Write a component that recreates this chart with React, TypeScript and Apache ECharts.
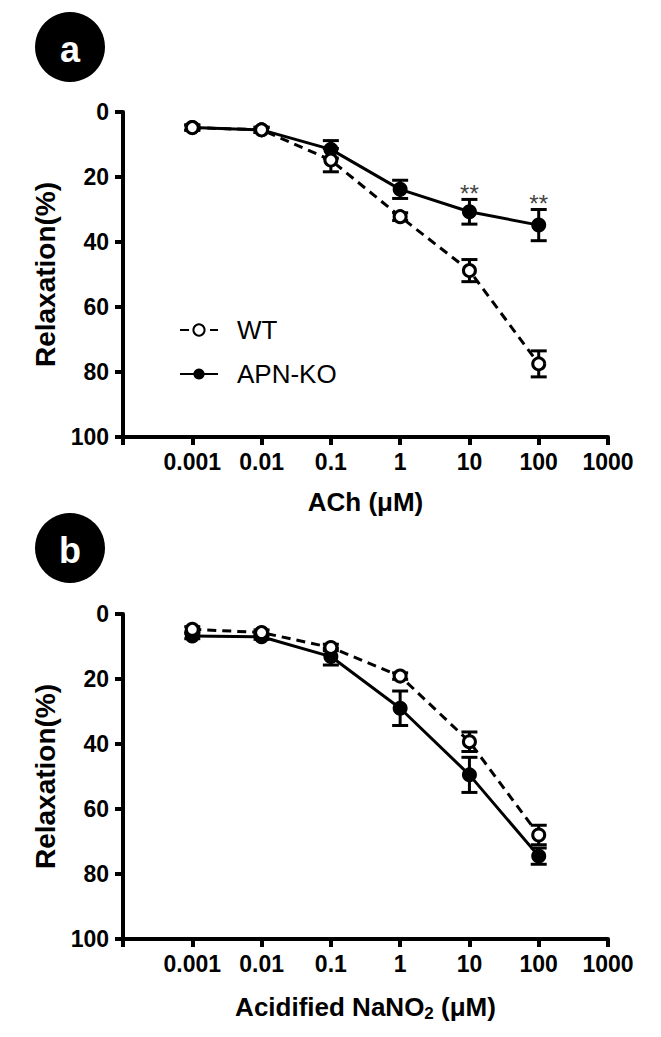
import React, { useEffect, useRef } from "react";
import * as echarts from "echarts";

// ---------- data ----------
const concentrations = [0.001, 0.01, 0.1, 1, 10, 100];
const xTickLabels = ["0.001", "0.01", "0.1", "1", "10", "100", "1000"];

// Panel a: ACh
const wtA = [4.8, 5.5, 14.8, 32.2, 48.8, 77.5];
const wtAErr = [0.8, 0.8, 3.6, 1.2, 3.4, 4.0];
const koA = [4.8, 5.5, 11.5, 23.8, 30.7, 34.8];
const koAErr = [0.8, 0.8, 2.7, 2.8, 3.8, 4.8];
const koASignificance = ["", "", "", "", "**", "**"];

// Panel b: Acidified NaNO2
const wtB = [4.7, 5.7, 10.3, 19.1, 39.3, 68.0];
const wtBErr = [0.8, 0.8, 1.0, 1.0, 3.0, 3.0];
const koB = [6.8, 7.0, 13.1, 29.0, 49.5, 74.5];
const koBErr = [0.8, 0.8, 2.6, 5.3, 5.4, 2.5];

const seriesNames = ["WT", "APN-KO"];
const yAxisTitle = "Relaxation(%)";
const panelLetters = ["a", "b"];

const FONT = "'Liberation Sans', Arial, Helvetica, sans-serif";

const errRender = (params: any, api: any) => {
  const x = api.value(0);
  const m = api.value(1);
  const e = api.value(2);
  const top = api.coord([x, m - e]);
  const bot = api.coord([x, m + e]);
  const hw = 8;
  const style = { stroke: "#000", lineWidth: 3 };
  return {
    type: "group",
    children: [
      { type: "line", shape: { x1: top[0], y1: top[1], x2: bot[0], y2: bot[1] }, style },
      { type: "line", shape: { x1: top[0] - hw, y1: top[1], x2: top[0] + hw, y2: top[1] }, style },
      { type: "line", shape: { x1: bot[0] - hw, y1: bot[1], x2: bot[0] + hw, y2: bot[1] }, style },
    ],
  };
};

const starRender = (params: any, api: any) => {
  const x = api.value(0);
  const m = api.value(1);
  const e = api.value(2);
  const p = api.coord([x, m - e]);
  return {
    type: "text",
    x: p[0],
    y: p[1] - 6,
    style: {
      text: "**",
      fill: "#444",
      font: `24px ${FONT}`,
      align: "center",
      verticalAlign: "middle",
    },
  };
};

function panelSeries(
  idx: number,
  wt: number[],
  wtErr: number[],
  ko: number[],
  koErr: number[],
  sig: string[] | null
) {
  const out: any[] = [
    {
      type: "custom",
      name: "koErr" + idx,
      xAxisIndex: idx,
      yAxisIndex: idx,
      renderItem: errRender,
      encode: { x: 0, y: 1 },
      data: concentrations.map((c, i) => [c, ko[i], koErr[i]]),
      z: 3,
      silent: true,
    },
    {
      type: "custom",
      name: "wtErr" + idx,
      xAxisIndex: idx,
      yAxisIndex: idx,
      renderItem: errRender,
      encode: { x: 0, y: 1 },
      data: concentrations.map((c, i) => [c, wt[i], wtErr[i]]),
      z: 3,
      silent: true,
    },
    {
      type: "line",
      name: seriesNames[1],
      xAxisIndex: idx,
      yAxisIndex: idx,
      data: concentrations.map((c, i) => [c, ko[i]]),
      symbol: "circle",
      symbolSize: 15,
      itemStyle: { color: "#000", borderColor: "#000", borderWidth: 0 },
      lineStyle: { color: "#000", width: 3, type: "solid" },
      z: 4,
    },
    {
      type: "line",
      name: seriesNames[0],
      xAxisIndex: idx,
      yAxisIndex: idx,
      data: concentrations.map((c, i) => [c, wt[i]]),
      symbol: "circle",
      symbolSize: 12,
      itemStyle: { color: "#fff", borderColor: "#000", borderWidth: 3 },
      lineStyle: { color: "#000", width: 3, type: [9, 6] },
      z: 5,
    },
  ];
  if (sig) {
    out.push({
      type: "custom",
      name: "sig" + idx,
      xAxisIndex: idx,
      yAxisIndex: idx,
      renderItem: starRender,
      encode: { x: 0, y: 1 },
      data: concentrations
        .map((c, i) => (sig[i] ? [c, ko[i], koErr[i]] : null))
        .filter((d) => d !== null),
      z: 6,
      silent: true,
    });
  }
  return out;
}

function xAxisDef(idx: number, name: any, rich?: any) {
  return {
    type: "log",
    logBase: 10,
    gridIndex: idx,
    min: 0.0001,
    max: 1000,
    splitNumber: 7,
    name,
    nameLocation: "middle",
    nameGap: 52,
    nameTextStyle: {
      fontFamily: FONT,
      fontSize: 26,
      fontWeight: "bold",
      color: "#000",
      rich,
    },
    axisLine: { show: true, onZero: false, lineStyle: { color: "#000", width: 4 } },
    axisTick: { show: true, length: 8, lineStyle: { color: "#000", width: 4 } },
    minorTick: { show: false },
    splitLine: { show: false },
    axisLabel: {
      margin: 13,
      color: "#000",
      fontFamily: FONT,
      fontSize: 23,
      fontWeight: "bold",
      formatter: (v: number, i: number) => (i === 0 ? "" : xTickLabels[i - 1] ?? ""),
    },
  };
}

function yAxisDef(idx: number) {
  return {
    type: "value",
    gridIndex: idx,
    inverse: true,
    min: 0,
    max: 100,
    interval: 20,
    name: yAxisTitle,
    nameLocation: "middle",
    nameRotate: 90,
    nameGap: 64,
    nameTextStyle: { fontFamily: FONT, fontSize: 28, fontWeight: "bold", color: "#000" },
    axisLine: { show: true, onZero: false, lineStyle: { color: "#000", width: 4 } },
    axisTick: { show: true, length: 8, lineStyle: { color: "#000", width: 4 } },
    splitLine: { show: false },
    axisLabel: {
      margin: 14,
      color: "#000",
      fontFamily: FONT,
      fontSize: 23,
      fontWeight: "bold",
    },
  };
}

export default function App() {
  const ref = useRef<HTMLDivElement>(null);
  useEffect(() => {
    if (!ref.current) return;
    const chart = echarts.init(ref.current, null, { renderer: "svg" });
    const option: any = {
      animation: false,
      backgroundColor: "#fff",
      grid: [
        { left: 123, top: 112, width: 485, height: 325 },
        { left: 123, top: 614, width: 485, height: 325 },
      ],
      xAxis: [
        xAxisDef(0, "ACh (\u03bcM)"),
        xAxisDef(1, "{t|Acidified NaNO}{s|2}{t| (\u03bcM)}", {
          t: { fontFamily: FONT, fontSize: 26, fontWeight: "bold", color: "#000" },
          s: {
            fontFamily: FONT,
            fontSize: 17,
            fontWeight: "bold",
            color: "#000",
            verticalAlign: "bottom",
            padding: [14, 0, 0, 0],
          },
        }),
      ],
      yAxis: [yAxisDef(0), yAxisDef(1)],
      legend: {
        show: true,
        orient: "vertical",
        left: 174,
        top: 310,
        itemWidth: 38,
        itemHeight: 14,
        itemGap: 14,
        selectedMode: false,
        data: seriesNames,
        textStyle: {
          fontFamily: FONT,
          fontSize: 26,
          color: "#000",
          lineHeight: 30,
          padding: [0, 0, 0, 14],
        },
      },
      graphic: [
        { type: "circle", shape: { cx: 70, cy: 47, r: 35 }, style: { fill: "#000" } },
        {
          type: "text",
          x: 70,
          y: 49,
          style: {
            text: panelLetters[0],
            fill: "#fff",
            font: `bold 36px ${FONT}`,
            align: "center",
            verticalAlign: "middle",
          },
        },
        { type: "circle", shape: { cx: 70, cy: 548, r: 35 }, style: { fill: "#000" } },
        {
          type: "text",
          x: 70,
          y: 550,
          style: {
            text: panelLetters[1],
            fill: "#fff",
            font: `bold 36px ${FONT}`,
            align: "center",
            verticalAlign: "middle",
          },
        },
      ],
      series: [
        ...panelSeries(0, wtA, wtAErr, koA, koAErr, koASignificance),
        ...panelSeries(1, wtB, wtBErr, koB, koBErr, null),
      ],
    };
    chart.setOption(option);
    return () => chart.dispose();
  }, []);
  return (
    <div
      ref={ref}
      style={{ position: "fixed", left: 0, top: 0, width: 661, height: 1037, background: "#fff" }}
    />
  );
}
